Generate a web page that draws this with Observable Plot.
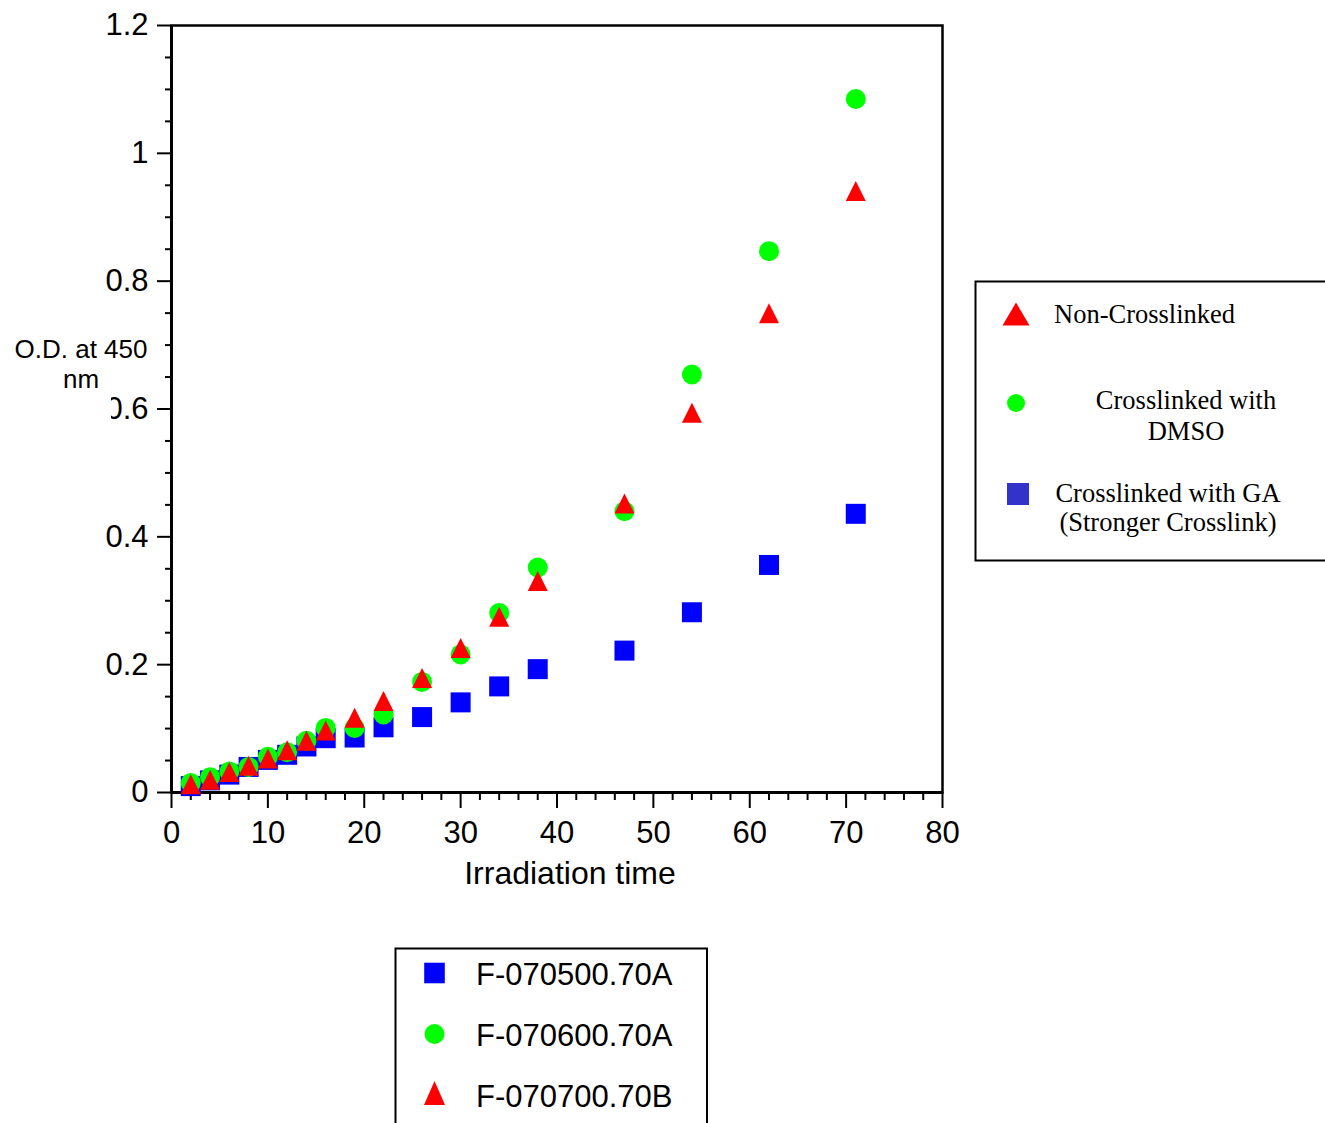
<!DOCTYPE html>
<html>
<head>
<meta charset="utf-8">
<script src="https://cdn.jsdelivr.net/npm/d3@7"></script>
<script src="https://cdn.jsdelivr.net/npm/@observablehq/plot@0.6"></script>
<style>
  html, body { margin: 0; padding: 0; background: white; }
  #chart { width: 1325px; height: 1123px; overflow: hidden; }
</style>
</head>
<body>
<div id="chart"></div>
<script>
// ---- Data ----
const times = [2, 4, 6, 8, 10, 12, 14, 16, 19, 22, 26, 30, 34, 38, 47, 54, 62, 71];
const seriesA = [0.010, 0.019, 0.028, 0.040, 0.051, 0.059, 0.072, 0.085, 0.086, 0.102, 0.118, 0.141, 0.166, 0.193, 0.222, 0.282, 0.356, 0.436]; // F-070500.70A
const seriesB = [0.015, 0.024, 0.033, 0.040, 0.056, 0.063, 0.081, 0.101, 0.101, 0.122, 0.173, 0.216, 0.281, 0.352, 0.440, 0.654, 0.847, 1.085]; // F-070600.70A
const seriesC = [0.013, 0.020, 0.032, 0.042, 0.053, 0.066, 0.081, 0.097, 0.117, 0.143, 0.179, 0.226, 0.275, 0.331, 0.452, 0.594, 0.750, 0.941]; // F-070700.70B
const seriesNames = ["F-070500.70A", "F-070600.70A", "F-070700.70B"];
const noteLabels = [["Non-Crosslinked"], ["Crosslinked with", "DMSO"], ["Crosslinked with GA", "(Stronger Crosslink)"]];
const xTicks = [0, 10, 20, 30, 40, 50, 60, 70, 80];
const xMinor = [2,4,6,8,12,14,16,18,22,24,26,28,32,34,36,38,42,44,46,48,52,54,56,58,62,64,66,68,72,74,76,78];
const yTicks = [0, 0.2, 0.4, 0.6, 0.8, 1, 1.2];
const yTickLabels = ["0", "0.2", "0.4", "0.6", "0.8", "1", "1.2"];
const yMinor = [0.05,0.1,0.15,0.25,0.3,0.35,0.45,0.5,0.55,0.65,0.7,0.75,0.85,0.9,0.95,1.05,1.1,1.15];
const xLabel = "Irradiation time";
const yLabelLines = ["O.D. at 450", "nm"];

const toRows = (vals) => times.map((t, i) => ({t, v: vals[i]}));

// custom symbols (bounding box centred on the point)
const squareSym = { draw(ctx, size) { const r = Math.sqrt(size / Math.PI); ctx.rect(-r, -r, 2 * r, 2 * r); } };
const triSym = { draw(ctx, size) { const r = Math.sqrt(size / Math.PI); ctx.moveTo(0, -r); ctx.lineTo(r, r); ctx.lineTo(-r, r); ctx.closePath(); } };

const SANS = "'Liberation Sans', Arial, sans-serif";
const SERIF = "'Liberation Serif', 'Times New Roman', serif";

const svg = Plot.plot({
  width: 1325,
  height: 1123,
  marginLeft: 171,
  marginRight: 383,
  marginTop: 25,
  marginBottom: 331,
  style: { fontFamily: SANS, color: "black", background: "white", overflow: "visible" },
  x: { domain: [0, 80] },
  y: { domain: [0, 1.2] },
  marks: [
    Plot.axisY({ ticks: yMinor, tickSize: 6, text: null, label: null, strokeWidth: 2 }),
    Plot.axisY({ ticks: yTicks, tickSize: 14, tickPadding: 9, fontSize: 31, label: null, strokeWidth: 2,
                 tickFormat: (d) => yTickLabels[yTicks.indexOf(d)] }),
    Plot.axisX({ ticks: xMinor, tickSize: 8, text: null, label: null, strokeWidth: 2 }),
    Plot.axisX({ ticks: xTicks, tickSize: 16, tickPadding: 12, fontSize: 31, label: null, strokeWidth: 2 }),
    Plot.frame({ stroke: "black", strokeWidth: 2.5 }),
    Plot.ruleX([0], { stroke: "black", strokeWidth: 3 }),
    Plot.ruleY([0], { stroke: "black", strokeWidth: 3 }),
    Plot.dot(toRows(seriesA), { x: "t", y: "v", symbol: squareSym, r: 10, fill: "#0000ff", stroke: "none" }),
    Plot.dot(toRows(seriesB), { x: "t", y: "v", symbol: "circle", r: 10, fill: "#00ff00", stroke: "none" }),
    Plot.dot(toRows(seriesC), { x: "t", y: "v", symbol: triSym, r: 10, fill: "#ff0000", stroke: "none" })
  ]
});

document.getElementById("chart").appendChild(svg);

const s = d3.select(svg);

// x-axis title
s.append("text").attr("x", 570).attr("y", 884).attr("text-anchor", "middle")
  .attr("font-family", SANS).attr("font-size", 32).attr("fill", "black").text(xLabel);

// y-axis title with its white box (covers part of the 0.6 label, as in the reference)
s.append("rect").attr("x", 0).attr("y", 333).attr("width", 111).attr("height", 93).attr("fill", "white");
yLabelLines.forEach((line, i) => {
  s.append("text").attr("x", 81).attr("y", 358 + i * 30).attr("text-anchor", "middle")
    .attr("font-family", SANS).attr("font-size", 26).attr("fill", "black").text(line);
});

const symPath = (sym, r) => { const p = d3.path(); sym.draw(p, Math.PI * r * r); return p.toString(); };

// right-hand annotation legend
const g1 = s.append("g");
g1.append("rect").attr("x", 975.5).attr("y", 281.5).attr("width", 400).attr("height", 279)
  .attr("fill", "white").attr("stroke", "black").attr("stroke-width", 2);
g1.append("path").attr("d", "M0,-11.5L13.5,11.5L-13.5,11.5Z").attr("transform", "translate(1016,314)").attr("fill", "#ff0000");
g1.append("circle").attr("cx", 1016).attr("cy", 403).attr("r", 9).attr("fill", "#00ff00");
g1.append("rect").attr("x", 1007).attr("y", 483).attr("width", 22).attr("height", 22).attr("fill", "#3333cc");
const noteText = [
  { lines: noteLabels[0], x: 1054, anchor: "start", y: [323] },
  { lines: noteLabels[1], x: 1186, anchor: "middle", y: [409, 440] },
  { lines: noteLabels[2], x: 1168, anchor: "middle", y: [502, 531] }
];
noteText.forEach(n => n.lines.forEach((l, i) => {
  g1.append("text").attr("x", n.x).attr("y", n.y[i]).attr("text-anchor", n.anchor)
    .attr("font-family", SERIF).attr("font-size", 26.5).attr("fill", "black").text(l);
}));

// bottom series legend
const g2 = s.append("g");
g2.append("rect").attr("x", 395.5).attr("y", 948.5).attr("width", 311.5).attr("height", 200)
  .attr("fill", "white").attr("stroke", "black").attr("stroke-width", 2);
const legSyms = [
  { d: symPath(squareSym, 10.3), fill: "#0000ff", cy: 973 },
  { d: symPath({ draw(ctx, size) { const r = Math.sqrt(size / Math.PI); ctx.moveTo(r, 0); ctx.arc(0, 0, r, 0, 2 * Math.PI); } }, 10), fill: "#00ff00", cy: 1034 },
  { d: "M0,-12L10.5,12L-10.5,12Z", fill: "#ff0000", cy: 1093 }
];
seriesNames.forEach((name, i) => {
  g2.append("path").attr("d", legSyms[i].d).attr("transform", `translate(434.5,${legSyms[i].cy})`).attr("fill", legSyms[i].fill);
  g2.append("text").attr("x", 476).attr("y", 985 + i * 61).attr("text-anchor", "start").attr("font-family", SANS)
    .attr("font-size", 31).attr("fill", "black").text(name);
});
</script>
</body>
</html>
